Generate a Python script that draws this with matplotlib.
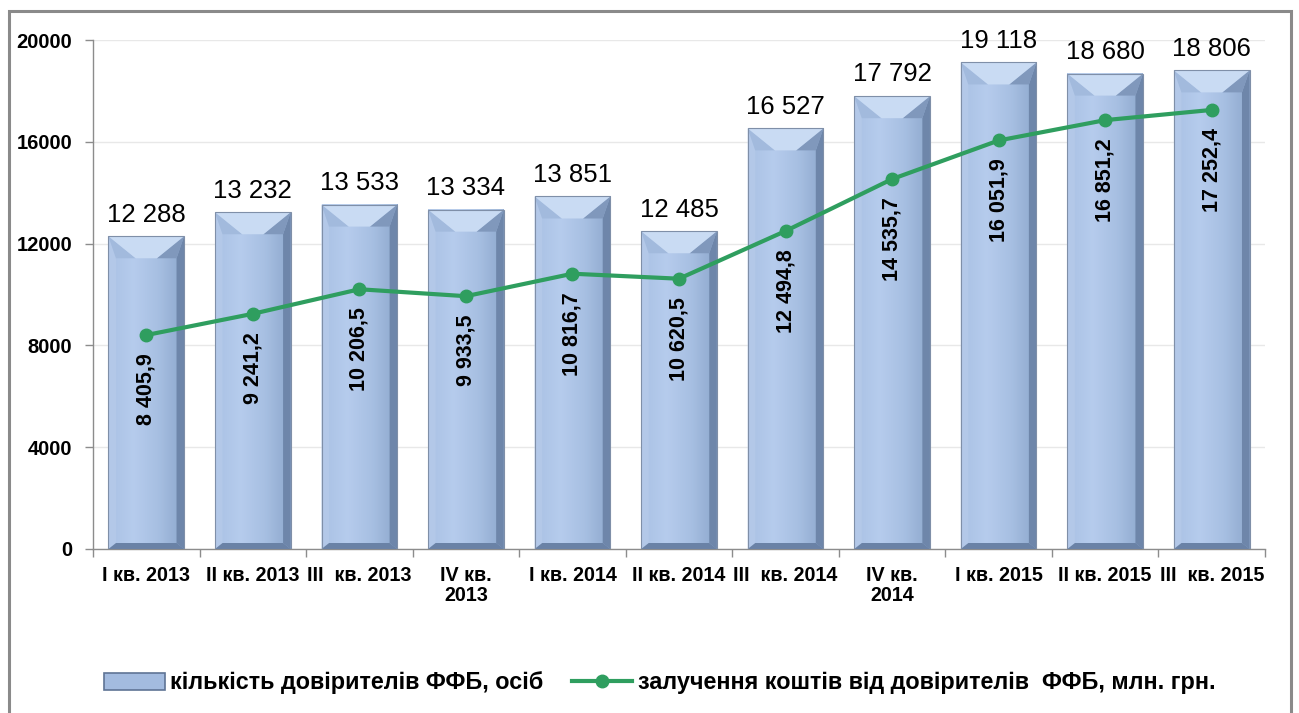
import matplotlib
matplotlib.use("Agg")
import matplotlib.pyplot as plt
import numpy as np
from matplotlib.patches import Polygon, Rectangle, Patch
from matplotlib.lines import Line2D
from matplotlib.colors import LinearSegmentedColormap

plt.rcParams['font.family'] = ['Liberation Sans', 'DejaVu Sans']

categories = ["I кв. 2013", "II кв. 2013", "III  кв. 2013", "IV кв.\n2013",
              "I кв. 2014", "II кв. 2014", "III  кв. 2014", "IV кв.\n2014",
              "I кв. 2015", "II кв. 2015", "III  кв. 2015"]
depositors = [12288, 13232, 13533, 13334, 13851, 12485, 16527, 17792, 19118, 18680, 18806]
funds = [8405.9, 9241.2, 10206.5, 9933.5, 10816.7, 10620.5, 12494.8, 14535.7, 16051.9, 16851.2, 17252.4]
y_ticks = [0, 4000, 8000, 12000, 16000, 20000]

series_bar = "кількість довірителів ФФБ, осіб"
series_line = "залучення коштів від довірителів  ФФБ, млн. грн."


def fmt_int(v):
    return f"{v:,}".replace(",", " ")


def fmt_dec(v):
    return f"{v:,.1f}".replace(",", " ").replace(".", ",")


W, H = 1299, 713
fig = plt.figure(figsize=(W / 100, H / 100), dpi=100)
ax = fig.add_axes([93 / W, 1 - 549 / H, (1265 - 93) / W, (549 - 40) / H])

x = np.arange(len(categories))
width = 0.71
ax.set_xlim(-0.5, len(categories) - 0.5)
ax.set_ylim(0, 20000)

# pixel -> data conversion for bevel sizes
px_y = 20000 / 509.0

face_cmap = LinearSegmentedColormap.from_list(
    "face", ["#a9c1e4", "#b6cced", "#a7bfe2", "#8ea8cd"])
grad = np.linspace(0, 1, 64).reshape(1, -1)

for xi, h in zip(x, depositors):
    x0, x1 = xi - width / 2, xi + width / 2
    w = width
    bw = 0.10 * w
    dy = 22 * px_y
    bb = 6 * px_y
    ax.imshow(grad, cmap=face_cmap, extent=[x0, x1, 0, h], aspect='auto',
              zorder=2, interpolation='bicubic')
    # left / right side bevels
    ax.add_patch(Polygon([(x0, 0), (x0 + bw, bb), (x0 + bw, h - dy), (x0, h)],
                         closed=True, facecolor="#b3c8e8", edgecolor='none', zorder=3))
    ax.add_patch(Polygon([(x1, 0), (x1 - bw, bb), (x1 - bw, h - dy), (x1, h)],
                         closed=True, facecolor="#6e86aa", edgecolor='none', zorder=3))
    # top facets
    ax.add_patch(Polygon([(x0, h), (x0 + bw, h - dy), (x0 + 0.36 * w, h - dy)],
                         closed=True, facecolor="#a2badd", edgecolor='none', zorder=3))
    ax.add_patch(Polygon([(x1, h), (x1 - bw, h - dy), (x0 + 0.64 * w, h - dy)],
                         closed=True, facecolor="#8098bc", edgecolor='none', zorder=3))
    ax.add_patch(Polygon([(x0, h), (x1, h), (x0 + 0.64 * w, h - dy), (x0 + 0.36 * w, h - dy)],
                         closed=True, facecolor="#c9dbf3", edgecolor='none', zorder=3))
    # bottom bevel
    ax.add_patch(Polygon([(x0, 0), (x1, 0), (x1 - bw, bb), (x0 + bw, bb)],
                         closed=True, facecolor="#6a82a6", edgecolor='none', zorder=3))
    ax.add_patch(Rectangle((x0, 0), w, h, facecolor='none', edgecolor="#7f8fa8",
                           lw=0.8, zorder=4))
    ax.annotate(fmt_int(h), (xi, h), xytext=(0, 7), textcoords='offset points',
                ha='center', va='bottom', fontsize=18.5, color='black', zorder=6)

green = "#2f9e5f"
ax.plot(x, funds, color=green, lw=3, marker='o', ms=9, zorder=5)
for xi, v in zip(x, funds):
    ax.annotate(fmt_dec(v), (xi, v), xytext=(0, -13), textcoords='offset points',
                ha='center', va='top', rotation=90, fontsize=15.5,
                fontweight='bold', color='black', zorder=6)

ax.set_yticks(y_ticks)
ax.set_yticklabels([str(t) for t in y_ticks], fontsize=14.5, fontweight='bold')
ax.set_xticks(x)
ax.set_xticklabels(categories, fontsize=14.2, fontweight='bold', linespacing=1.1)
ax.tick_params(axis='x', which='major', length=0, pad=12)
ax.set_xticks(np.arange(-0.5, len(categories)), minor=True)
ax.tick_params(axis='x', which='minor', length=6, color='#8c8c8c', width=1)
ax.tick_params(axis='y', length=6, color='#8c8c8c', width=1, pad=9)
ax.grid(axis='y', color='#e8e8e8', lw=1, zorder=0)
ax.set_axisbelow(True)
for s in ['top', 'right']:
    ax.spines[s].set_visible(False)
for s in ['left', 'bottom']:
    ax.spines[s].set_color('#8c8c8c')
    ax.spines[s].set_linewidth(1)

handles = [Patch(facecolor="#a3bbdf", edgecolor="#5f7495", lw=1.2),
           Line2D([0], [0], color=green, lw=3, marker='o', ms=9)]
fig.legend(handles, [series_bar, series_line], loc='center',
           bbox_to_anchor=(0.508, 1 - 683 / H), ncol=2, frameon=False,
           prop={'size': 16.8, 'weight': 'bold'}, handlelength=2.6,
           handletextpad=0.25, columnspacing=1.2, handleheight=0.7)

fig.add_artist(Rectangle((9 / W, -0.05), (1291 - 9) / W, 1.05 - 11 / H,
                         transform=fig.transFigure, fill=False,
                         edgecolor='#8a8a8a', lw=2.2))

fig.savefig("out.png", dpi=100)
